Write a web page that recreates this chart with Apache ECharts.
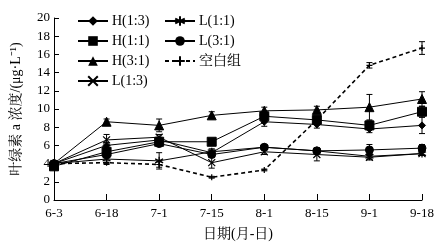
<!DOCTYPE html>
<html><head><meta charset="utf-8">
<script src="https://cdn.jsdelivr.net/npm/echarts@6/dist/echarts.min.js"></script>
<style>html,body{margin:0;padding:0;background:#fff}#c{width:446px;height:246px}</style>
</head><body><div id="c"></div>
<script>
const categories = ['6-3','6-18','7-1','7-15','8-1','8-15','9-1','9-18'];
const yTicks = [0,2,4,6,8,10,12,14,16,18,20];
const names = ['H(1:3)','H(1:1)','H(3:1)','L(1:3)','L(1:1)','L(3:1)','空白组'];
const H13 = [4.0, 6.0, 6.6, 5.2, 8.6, 8.3, 7.8, 8.2];
const H13err = [0.2, 0.3, 0.3, 0.4, 0.5, 0.4, 0.4, 0.9];
const H11 = [3.7, 5.3, 6.4, 6.4, 9.2, 8.8, 8.2, 9.7];
const H11err = [0.3, 0.5, 0.4, 0.3, 0.4, 0.4, 0.5, 0.6];
const H31 = [4.0, 8.6, 8.2, 9.3, 9.8, 9.9, 10.2, 11.1];
const H31err = [0.2, 0.3, 0.7, 0.4, 0.4, 0.4, 1.4, 0.8];
const L13 = [4.0, 6.6, 6.9, 4.1, 5.3, 5.0, 4.7, 5.1];
const L13err = [0.2, 0.6, 0.3, 0.6, 0.3, 0.7, 0.3, 0.2];
const L11 = [4.0, 4.5, 4.3, 5.3, 5.8, 5.4, 4.8, 5.1];
const L11err = [0.2, 0.5, 0.9, 0.3, 0.3, 0.3, 0.3, 0.2];
const L31 = [4.0, 5.0, 6.2, 5.0, 5.8, 5.4, 5.5, 5.7];
const L31err = [0.2, 0.4, 0.3, 0.3, 0.3, 0.3, 0.6, 0.4];
const blank = [4.0, 4.1, 3.9, 2.5, 3.3, 8.8, 14.8, 16.7];
const blankErr = [0.1, 0.2, 0.3, 0.1, 0.1, 0.3, 0.3, 0.7];

const values = [H13, H11, H31, L13, L11, L31, blank];
const errs = [H13err, H11err, H31err, L13err, L11err, L31err, blankErr];
const symbols = [
  'diamond', 'rect', 'triangle',
  'path://M0,0L10,10M10,0L0,10',
  'path://M5,0L5,10M0,2.5L10,7.5M0,7.5L10,2.5',
  'circle',
  'path://M5,0L5,10M0,5L10,5'
];
const symSizes = [7, 9, 9, 7, 8, 8, 6];
const FONT = '"Liberation Serif","Noto Serif CJK SC","Noto Sans CJK SC",serif';

const chart = echarts.init(document.getElementById('c'));
const series = [];
names.forEach((n, i) => {
  const isPath = symbols[i].startsWith('path://');
  series.push({
    name: n, type: 'line', data: values[i],
    symbol: symbols[i], symbolSize: symSizes[i],
    lineStyle: {color: '#000', width: i === 6 ? 1.6 : 1, type: i === 6 ? [4, 3] : 'solid'},
    itemStyle: isPath ? {color: 'transparent', borderColor: '#000', borderWidth: 1.2} : {color: '#000', borderColor: '#000'},
    showAllSymbol: true, z: 3, animation: false
  });
  series.push({
    type: 'custom', name: n + '_err', z: 2, animation: false,
    data: values[i].map((v, k) => [k, v - errs[i][k], v + errs[i][k]]),
    renderItem: (params, api) => {
      const lo = api.coord([api.value(0), api.value(1)]);
      const hi = api.coord([api.value(0), api.value(2)]);
      const w = 3;
      const st = {stroke: '#000', lineWidth: 1};
      return {type: 'group', children: [
        {type: 'line', shape: {x1: lo[0], y1: lo[1], x2: hi[0], y2: hi[1]}, style: st},
        {type: 'line', shape: {x1: lo[0]-w, y1: lo[1], x2: lo[0]+w, y2: lo[1]}, style: st},
        {type: 'line', shape: {x1: hi[0]-w, y1: hi[1], x2: hi[0]+w, y2: hi[1]}, style: st}
      ]};
    }
  });
});

const legendCommon = {
  orient: 'vertical', itemWidth: 30, itemHeight: 12, itemGap: 6,
  textStyle: {fontFamily: FONT, fontSize: 14, color: '#000', padding: [0,0,0,-1]},
  padding: 0, inactiveColor: '#000'
};

chart.setOption({
  animation: false,
  textStyle: {fontFamily: FONT},
  grid: {left: 54, right: 24, top: 18, bottom: 46},
  legend: [
    Object.assign({}, legendCommon, {left: 77, top: 14, data: names.slice(0, 4)}),
    Object.assign({}, legendCommon, {left: 164, top: 14, data: names.slice(4)})
  ],
  xAxis: {
    type: 'category', data: categories, boundaryGap: false,
    name: '日期(月-日)', nameLocation: 'middle', nameGap: 27,
    nameTextStyle: {fontFamily: FONT, fontSize: 14, color: '#000'},
    axisLine: {lineStyle: {color: '#000', width: 1}},
    axisTick: {inside: true, length: 6, lineStyle: {color: '#000'}},
    axisLabel: {color: '#000', fontSize: 13, fontFamily: FONT, margin: 7},
    splitLine: {show: false}
  },
  yAxis: {
    type: 'value', min: yTicks[0], max: yTicks[yTicks.length-1], interval: 2,
    name: '叶绿素 a 浓度/(μg·L⁻¹)', nameLocation: 'middle', nameGap: 31,
    nameRotate: 90,
    nameTextStyle: {fontFamily: FONT, fontSize: 14, color: '#000'},
    axisLine: {show: true, lineStyle: {color: '#000', width: 1}},
    axisTick: {show: true, inside: true, length: 5, lineStyle: {color: '#000'}},
    axisLabel: {color: '#000', fontSize: 13, fontFamily: FONT, margin: 4},
    splitLine: {show: false}
  },
  series: series
});
</script></body></html>
